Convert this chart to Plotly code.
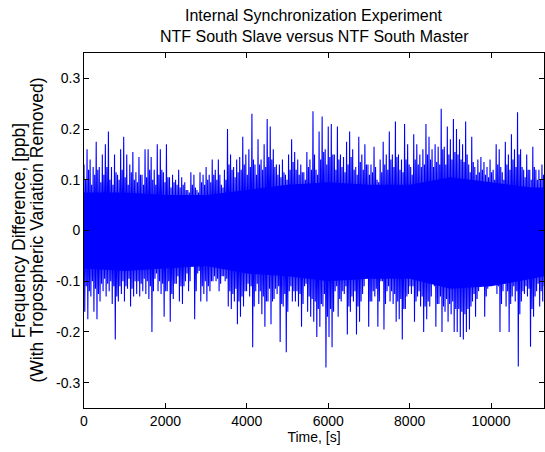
import plotly.graph_objects as go

# Frequency difference, slave vs master (ppb).
# Each 75 s step: peak up, peak down, then the smaller up/down swing
# that forms the ragged edge of the dense band.
dt_s = 75

peak_up = [
    0.13, 0.16, 0.14, 0.125, 0.175, 0.125, 0.15, 0.17, 0.195, 0.125, 0.15,
    0.11, 0.16, 0.185, 0.15, 0.13, 0.155, 0.115, 0.145, 0.11, 0.16, 0.16,
    0.145, 0.12, 0.17, 0.16, 0.115, 0.17, 0.105, 0.11, 0.10, 0.12, 0.105,
    0.095, 0.08, 0.115, 0.11, 0.08, 0.115, 0.11, 0.125, 0.11, 0.14,
    0.12, 0.14, 0.09, 0.12, 0.20, 0.15, 0.125, 0.14, 0.145, 0.185, 0.15,
    0.16, 0.23, 0.13, 0.18, 0.14, 0.17, 0.22, 0.205, 0.16, 0.13, 0.13,
    0.14, 0.11, 0.15, 0.18, 0.155, 0.14, 0.13, 0.115, 0.155, 0.14, 0.235,
    0.12, 0.195, 0.225, 0.16, 0.205, 0.21, 0.15, 0.205, 0.15, 0.145,
    0.175, 0.195, 0.16, 0.125, 0.185, 0.15, 0.17, 0.13, 0.13, 0.165, 0.10,
    0.14, 0.175, 0.15, 0.195, 0.15, 0.215, 0.15, 0.14, 0.21, 0.17, 0.125,
    0.19, 0.17, 0.15, 0.16, 0.21, 0.185, 0.16, 0.17, 0.165, 0.24, 0.165,
    0.205, 0.18, 0.22, 0.20, 0.18, 0.17, 0.215, 0.13, 0.185, 0.125,
    0.14, 0.145, 0.135, 0.125, 0.14, 0.12, 0.17, 0.16, 0.115, 0.175, 0.15,
    0.19, 0.16, 0.233, 0.16, 0.12, 0.15, 0.12, 0.165, 0.12, 0.12, 0.13,
]

peak_down = [
    -0.16, -0.175, -0.13, -0.16, -0.175, -0.14, -0.12, -0.13, -0.12, -0.145,
    -0.215, -0.14, -0.125, -0.14, -0.115, -0.15, -0.13, -0.125, -0.13, -0.12,
    -0.125, -0.135,
    -0.2, -0.095, -0.12, -0.125, -0.17, -0.12, -0.18, -0.135, -0.105, -0.14,
    -0.145, -0.1, -0.12, -0.065, -0.175, -0.085, -0.14, -0.125, -0.14, -0.12,
    -0.1,
    -0.1, -0.12, -0.09, -0.1, -0.15, -0.155, -0.14, -0.185, -0.17, -0.15,
    -0.12, -0.13, -0.23, -0.12, -0.145, -0.165, -0.19, -0.14, -0.185, -0.135,
    -0.125, -0.22,
    -0.15, -0.24, -0.12, -0.14, -0.14, -0.15, -0.19, -0.11, -0.16, -0.17,
    -0.18, -0.21, -0.19, -0.15, -0.27, -0.21, -0.23, -0.12, -0.17, -0.14,
    -0.125,
    -0.205, -0.16, -0.14, -0.205, -0.18, -0.125, -0.09, -0.19, -0.14, -0.13,
    -0.19, -0.1, -0.195, -0.12, -0.14, -0.145, -0.18, -0.175, -0.215, -0.155,
    -0.125, -0.125,
    -0.18, -0.13, -0.15, -0.2, -0.175, -0.15, -0.1, -0.19, -0.145, -0.2,
    -0.16, -0.18, -0.165, -0.2, -0.2, -0.21, -0.215, -0.2, -0.195, -0.14,
    -0.17,
    -0.12, -0.11, -0.17, -0.115, -0.1, -0.075, -0.125, -0.2, -0.12, -0.15,
    -0.2, -0.13, -0.14, -0.268, -0.14, -0.125, -0.13, -0.229, -0.17, -0.12,
    -0.15, -0.14,
]

edge_up = [
    0.10, 0.12, 0.09, 0.11, 0.12, 0.095, 0.11, 0.125, 0.10, 0.09, 0.115,
    0.10, 0.12, 0.105, 0.09, 0.115, 0.10, 0.095, 0.11, 0.09, 0.105, 0.12,
    0.10, 0.09, 0.11, 0.12, 0.095, 0.105, 0.085, 0.095, 0.09, 0.085, 0.09,
    0.08, 0.075, 0.09, 0.085, 0.075, 0.095, 0.09, 0.10, 0.095, 0.11,
    0.10, 0.11, 0.085, 0.10, 0.13, 0.12, 0.105, 0.115, 0.12, 0.13, 0.11,
    0.125, 0.14, 0.11, 0.13, 0.12, 0.125, 0.145, 0.14, 0.125, 0.11, 0.105,
    0.115, 0.10, 0.12, 0.135, 0.12, 0.11, 0.115, 0.10, 0.125, 0.12, 0.15,
    0.11, 0.14, 0.155, 0.13, 0.145, 0.15, 0.12, 0.14, 0.125, 0.115,
    0.13, 0.145, 0.12, 0.11, 0.135, 0.12, 0.13, 0.11, 0.115, 0.125, 0.095,
    0.115, 0.13, 0.12, 0.14, 0.125, 0.145, 0.12, 0.115, 0.14, 0.13, 0.11,
    0.14, 0.13, 0.125, 0.13, 0.15, 0.14, 0.125, 0.135, 0.13, 0.16, 0.13,
    0.15, 0.14, 0.155, 0.15, 0.14, 0.135, 0.15, 0.115, 0.135, 0.11,
    0.115, 0.12, 0.11, 0.105, 0.115, 0.10, 0.13, 0.125, 0.10, 0.13, 0.12,
    0.14, 0.125, 0.15, 0.125, 0.105, 0.12, 0.10, 0.125, 0.10, 0.10, 0.11,
]

edge_down = [
    -0.11, -0.12, -0.10, -0.115, -0.125, -0.105, -0.095, -0.105, -0.10, -0.11,
    -0.13, -0.11, -0.10, -0.11, -0.095, -0.115, -0.10, -0.10, -0.105, -0.095,
    -0.10, -0.11,
    -0.12, -0.085, -0.10, -0.105, -0.12, -0.10, -0.125, -0.105, -0.09, -0.11,
    -0.11, -0.085, -0.10, -0.07, -0.12, -0.08, -0.11, -0.10, -0.11, -0.10,
    -0.09,
    -0.095, -0.105, -0.09, -0.095, -0.12, -0.125, -0.115, -0.14, -0.13, -0.12,
    -0.105, -0.11, -0.15, -0.105, -0.12, -0.13, -0.14, -0.115, -0.14, -0.115,
    -0.11, -0.145,
    -0.125, -0.16, -0.11, -0.12, -0.12, -0.125, -0.145, -0.105, -0.13, -0.135,
    -0.14, -0.155, -0.145, -0.125, -0.17, -0.155, -0.16, -0.11, -0.135, -0.12,
    -0.11,
    -0.15, -0.13, -0.12, -0.15, -0.14, -0.11, -0.09, -0.14, -0.12, -0.115,
    -0.14, -0.10, -0.145, -0.11, -0.12, -0.125, -0.14, -0.135, -0.155, -0.13,
    -0.11, -0.11,
    -0.14, -0.12, -0.13, -0.15, -0.14, -0.13, -0.11, -0.145, -0.13, -0.15,
    -0.135, -0.145, -0.14, -0.155, -0.155, -0.16, -0.165, -0.155, -0.15, -0.125,
    -0.135,
    -0.11, -0.105, -0.13, -0.105, -0.10, -0.085, -0.11, -0.145, -0.105, -0.12,
    -0.145, -0.11, -0.12, -0.165, -0.12, -0.11, -0.115, -0.155, -0.13, -0.105,
    -0.12, -0.11,
]

# dense core of the noise band
core_t = [0, 1000, 2000, 3000, 4000, 5000, 6000, 7000, 8000, 9000, 10000, 11000, 11300]
core_hi = [0.075, 0.075, 0.07, 0.07, 0.08, 0.09, 0.095, 0.09, 0.09, 0.105, 0.095, 0.085, 0.085]
core_lo = [-0.075, -0.08, -0.075, -0.07, -0.085, -0.09, -0.10, -0.095, -0.095, -0.115, -0.11, -0.095, -0.09]

x_ticks = [0, 2000, 4000, 6000, 8000, 10000]
x_ticktext = ["0", "2000", "4000", "6000", "8000", "10000"]
y_ticks = [-0.3, -0.2, -0.1, 0, 0.1, 0.2, 0.3]
y_ticktext = ["-0.3", "-0.2", "-0.1", "0", "0.1", "0.2", "0.3"]

BLUE = "#0000FF"
FONT = "Liberation Sans, Arial, sans-serif"

# interleave the four swings of each step into one time series
t_series, f_series = [], []
for i in range(len(peak_up)):
    vals = [peak_up[i], peak_down[i], edge_up[i], edge_down[i]]
    for k, v in enumerate(vals):
        t_series.append(i * dt_s + k * dt_s / 4)
        f_series.append(v)

fig = go.Figure()
fig.add_trace(go.Scatter(
    x=core_t + core_t[::-1], y=core_hi + core_lo[::-1],
    fill="toself", fillcolor=BLUE, line=dict(width=0),
    mode="lines", hoverinfo="skip", showlegend=False
))
fig.add_trace(go.Scatter(
    x=t_series, y=f_series, mode="lines",
    line=dict(color=BLUE, width=1.1), showlegend=False
))

axis_style = dict(
    showline=True, linecolor="black", linewidth=1, mirror="ticks",
    ticks="inside", ticklen=5, tickcolor="black",
    showgrid=False, zeroline=False,
    tickfont=dict(family=FONT, size=14, color="black"),
)

# plot area spans y = 53..408 px, so paper units per px = 1/355
fig.update_layout(
    width=545, height=452,
    paper_bgcolor="white", plot_bgcolor="white",
    margin=dict(l=84, r=1, t=53, b=44),
    font=dict(family=FONT, size=14, color="black"),
    xaxis=dict(range=[0, 11300], tickvals=x_ticks, ticktext=x_ticktext,
               title=dict(text="Time, [s]", standoff=4,
                          font=dict(family=FONT, size=14, color="black")),
               **axis_style),
    yaxis=dict(range=[-0.35, 0.35], tickvals=y_ticks, ticktext=y_ticktext,
               **axis_style),
    annotations=[
        dict(text="Internal Synchronization Experiment",
             xref="paper", yref="paper", x=0.5, y=1 + 37 / 355,
             xanchor="center", yanchor="middle", showarrow=False,
             font=dict(family=FONT, size=16, color="black")),
        dict(text="NTF South Slave versus NTF South Master",
             xref="paper", yref="paper", x=0.5, y=1 + 17 / 355,
             xanchor="center", yanchor="middle", showarrow=False,
             font=dict(family=FONT, size=16, color="black")),
        dict(text="Frequency Difference, [ppb]",
             xref="paper", yref="paper", x=-66 / 460, y=0.5,
             xanchor="center", yanchor="middle", textangle=-90, showarrow=False,
             font=dict(family=FONT, size=17.5, color="black")),
        dict(text="(With Tropospheric Variation Removed)",
             xref="paper", yref="paper", x=-48 / 460, y=0.5,
             xanchor="center", yanchor="middle", textangle=-90, showarrow=False,
             font=dict(family=FONT, size=17.5, color="black")),
    ],
)

# the page's default body margin would shift the 545x452 figure
fig.write_html("out.html", config={"displayModeBar": False},
               post_script="document.body.style.margin='0';")
